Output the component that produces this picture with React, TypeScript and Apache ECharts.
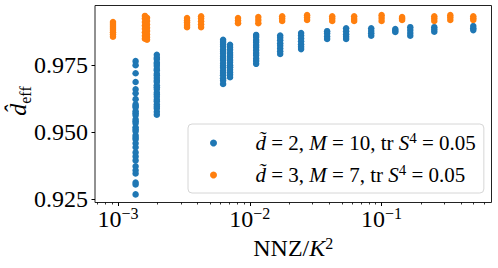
import React, { useEffect, useRef } from "react";
import * as echarts from "echarts";

const FONT = "Liberation Serif";

// x positions (NNZ/K^2) of each blue column and its d_eff values
const blueX = [1.36e-3, 1.97e-3, 6.27e-3, 7.08e-3, 1.117e-2, 1.7e-2, 2.45e-2, 3.86e-2, 5.38e-2, 8.34e-2, 0.127, 0.165, 0.251, 0.496];
const blueY = [
  [0.9766, 0.9751, 0.9721, 0.9688, 0.9661, 0.9646, 0.9624, 0.9605, 0.9598, 0.9594, 0.9579, 0.9571, 0.9564, 0.9549, 0.9541, 0.9534, 0.9519, 0.9511, 0.9504, 0.9489, 0.9481, 0.9474, 0.9459, 0.9444, 0.9425, 0.9410, 0.9395, 0.9373, 0.9358, 0.9346, 0.9312, 0.9305, 0.9268],
  [0.9790, 0.9779, 0.9773, 0.9761, 0.9755, 0.9748, 0.9737, 0.9731, 0.9719, 0.9712, 0.9703, 0.9694, 0.9688, 0.9676, 0.9668, 0.9661, 0.9649, 0.9641, 0.9633, 0.9622, 0.9615, 0.9604, 0.9596, 0.9589, 0.9577, 0.9566],
  [0.9846, 0.9838, 0.9829, 0.9821, 0.9810, 0.9803, 0.9795, 0.9784, 0.9776, 0.9769, 0.9758, 0.9749, 0.9741, 0.9730, 0.9722, 0.9713, 0.9702, 0.9694, 0.9681],
  [0.9827, 0.9818, 0.9809, 0.9797, 0.9789, 0.9781, 0.9770, 0.9762, 0.9751, 0.9743, 0.9734, 0.9724, 0.9715, 0.9706],
  [0.9864, 0.9856, 0.9845, 0.9837, 0.9826, 0.9818, 0.9807, 0.9796, 0.9788, 0.9776, 0.9767, 0.9756],
  [0.9862, 0.9853, 0.9844, 0.9833, 0.9824, 0.9813, 0.9803, 0.9793],
  [0.9871, 0.9862, 0.9851, 0.9840, 0.9829, 0.9820, 0.9811],
  [0.9878, 0.9869, 0.9858, 0.9849],
  [0.9889, 0.9878, 0.9867, 0.9857, 0.9849],
  [0.9889, 0.9879, 0.9870, 0.9861],
  [0.9886, 0.9880, 0.9875],
  [0.9893, 0.9882, 0.9871, 0.9861],
  [0.9893, 0.9884, 0.9876],
  [0.9897, 0.9889, 0.9882],
];

const orangeX = [9.16e-4, 1.6e-3, 1.66e-3, 3.34e-3, 4.27e-3, 8.14e-3, 1.16e-2, 1.76e-2, 2.72e-2, 4.22e-2, 6.19e-2, 0.1, 0.143, 0.251, 0.332, 0.496];
const orangeY = [
  [0.9912, 0.9905, 0.9897, 0.9890, 0.9882, 0.9874, 0.9866, 0.9857],
  [0.9935, 0.9925, 0.9912, 0.9899, 0.9887, 0.9874, 0.9861, 0.9850],
  [0.9928, 0.9916, 0.9903, 0.9891, 0.9879, 0.9866, 0.9855, 0.9846],
  [0.9927, 0.9918, 0.9910, 0.9901, 0.9893],
  [0.9934, 0.9925, 0.9915, 0.9904, 0.9893],
  [0.9927, 0.9918, 0.9908],
  [0.9931, 0.9920, 0.9908],
  [0.9934, 0.9925, 0.9916],
  [0.9938, 0.9929, 0.9920],
  [0.9934, 0.9925, 0.9916],
  [0.9934, 0.9924, 0.9916],
  [0.9938, 0.9927, 0.9916],
  [0.9931, 0.9925, 0.9920],
  [0.9934, 0.9925, 0.9916],
  [0.9938, 0.9929, 0.9920],
  [0.9934, 0.9926, 0.9920],
];

const seriesNames = ["d̃ = 2, M = 10, tr S⁴ = 0.05", "d̃ = 3, M = 7, tr S⁴ = 0.05"];
const legendRich = [
  "{i|d̃}{t| = 2, }{i|M}{t| = 10, tr }{i|S}{s|4}{t| = 0.05}",
  "{i|d̃}{t| = 3, }{i|M}{t| = 7, tr }{i|S}{s|4}{t| = 0.05}",
];
const colors = ["#1f77b4", "#ff7f0e"];

const xMajorTicks = [1e-3, 1e-2, 1e-1];
const xMinorTicks = [
  7e-4, 8e-4, 9e-4,
  2e-3, 3e-3, 4e-3, 5e-3, 6e-3, 7e-3, 8e-3, 9e-3,
  2e-2, 3e-2, 4e-2, 5e-2, 6e-2, 7e-2, 8e-2, 9e-2,
  2e-1, 3e-1, 4e-1, 5e-1, 6e-1,
];
const yTicks = [0.925, 0.95, 0.975];
const xRange = [6.69e-4, 0.682];
const yRange = [0.92377, 0.9974];

const supMap: Record<string, string> = { "-": "−" };

function buildPoints(xs: number[], ys: number[][]) {
  const out: number[][] = [];
  xs.forEach((x, i) => ys[i].forEach((y) => out.push([x, y])));
  return out;
}

const baseText = { fontFamily: FONT, fontSize: 24, color: "#000" };
const legText = { fontFamily: FONT, fontSize: 21, color: "#000" };

export default function App() {
  const ref = useRef<HTMLDivElement>(null);
  useEffect(() => {
    if (!ref.current) return;
    const chart = echarts.init(ref.current, undefined, { renderer: "svg" });
    const tickLine = { color: "#000", width: 1 };
    chart.setOption({
      animation: false,
      grid: {
        left: 95,
        top: 5.5,
        right: 6.5,
        bottom: 65.5,
        show: true,
        borderColor: "#222",
        borderWidth: 1,
        backgroundColor: "transparent",
      },
      graphic: [
        {
          type: "text",
          x: 18,
          y: 101,
          rotation: Math.PI / 2,
          style: {
            text: "{d|d̂}{e|eff}",
            align: "center",
            verticalAlign: "middle",
            rich: {
              d: { ...baseText, fontStyle: "italic", lineHeight: 30, verticalAlign: "middle" },
              e: { ...baseText, fontSize: 16, lineHeight: 30, verticalAlign: "bottom" },
            },
          },
        },
      ],
      legend: {
        orient: "vertical",
        left: 188,
        top: 124,
        padding: [6, 8, 5, 22],
        itemGap: 6,
        itemWidth: 14,
        itemHeight: 7,
        icon: "circle",
        backgroundColor: "rgba(255,255,255,0.8)",
        borderColor: "#d6d6d6",
        borderWidth: 1,
        borderRadius: 4,
        data: seriesNames,
        formatter: (name: string) => legendRich[seriesNames.indexOf(name)],
        textStyle: {
          ...legText,
          lineHeight: 26,
          padding: [0, 0, 0, 30],
          rich: {
            t: { ...legText, lineHeight: 26 },
            i: { ...legText, fontStyle: "italic", lineHeight: 26 },
            s: { ...legText, fontSize: 15, verticalAlign: "top", lineHeight: 18 },
          },
        },
      },
      xAxis: [
        {
          type: "log",
          logBase: 10,
          min: xRange[0],
          max: xRange[1],
          axisLine: { show: false },
          splitLine: { show: false },
          minorTick: { show: false },
          axisTick: { show: true, length: 3.5, customValues: xMajorTicks, lineStyle: tickLine },
          axisLabel: {
            customValues: xMajorTicks,
            margin: 3,
            formatter: (v: number) => {
              const e = Math.round(Math.log10(v));
              const s = String(e).split("").map((c) => supMap[c] || c).join("");
              return `{b|10}{e|${s}}`;
            },
            rich: {
              b: { ...baseText, lineHeight: 26 },
              e: { ...baseText, fontSize: 16, verticalAlign: "top", lineHeight: 18 },
            },
          },
          name: "{r|NNZ/}{i|K}{s|2}",
          nameLocation: "middle",
          nameGap: 30,
          nameTextStyle: {
            rich: {
              r: { ...baseText, lineHeight: 26 },
              i: { ...baseText, fontStyle: "italic", lineHeight: 26 },
              s: { ...baseText, fontSize: 16, verticalAlign: "top", lineHeight: 18 },
            },
          },
        },
        {
          type: "log",
          logBase: 10,
          position: "bottom",
          min: xRange[0],
          max: xRange[1],
          axisLine: { show: false },
          splitLine: { show: false },
          axisLabel: { show: false },
          axisTick: { show: true, length: 2, customValues: xMinorTicks, lineStyle: { color: "#000", width: 0.8 } },
        },
      ],
      yAxis: {
        type: "value",
        min: yRange[0],
        max: yRange[1],
        axisLine: { show: false },
        splitLine: { show: false },
        axisTick: { show: true, length: 3.5, customValues: yTicks, lineStyle: tickLine },
        axisLabel: {
          ...baseText,
          customValues: yTicks,
          margin: 7,
          formatter: (v: number) => v.toFixed(3),
        },
      },
      series: [
        {
          name: seriesNames[0],
          type: "scatter",
          xAxisIndex: 0,
          symbolSize: 6.5,
          itemStyle: { color: colors[0], opacity: 1 },
          data: buildPoints(blueX, blueY),
        },
        {
          name: seriesNames[1],
          type: "scatter",
          xAxisIndex: 0,
          symbolSize: 6.5,
          itemStyle: { color: colors[1], opacity: 1 },
          data: buildPoints(orangeX, orangeY),
        },
      ],
    });
    return () => chart.dispose();
  }, []);
  return (
    <div
      ref={ref}
      style={{ position: "fixed", left: 0, top: 0, width: 498, height: 268, background: "#fff" }}
    />
  );
}
